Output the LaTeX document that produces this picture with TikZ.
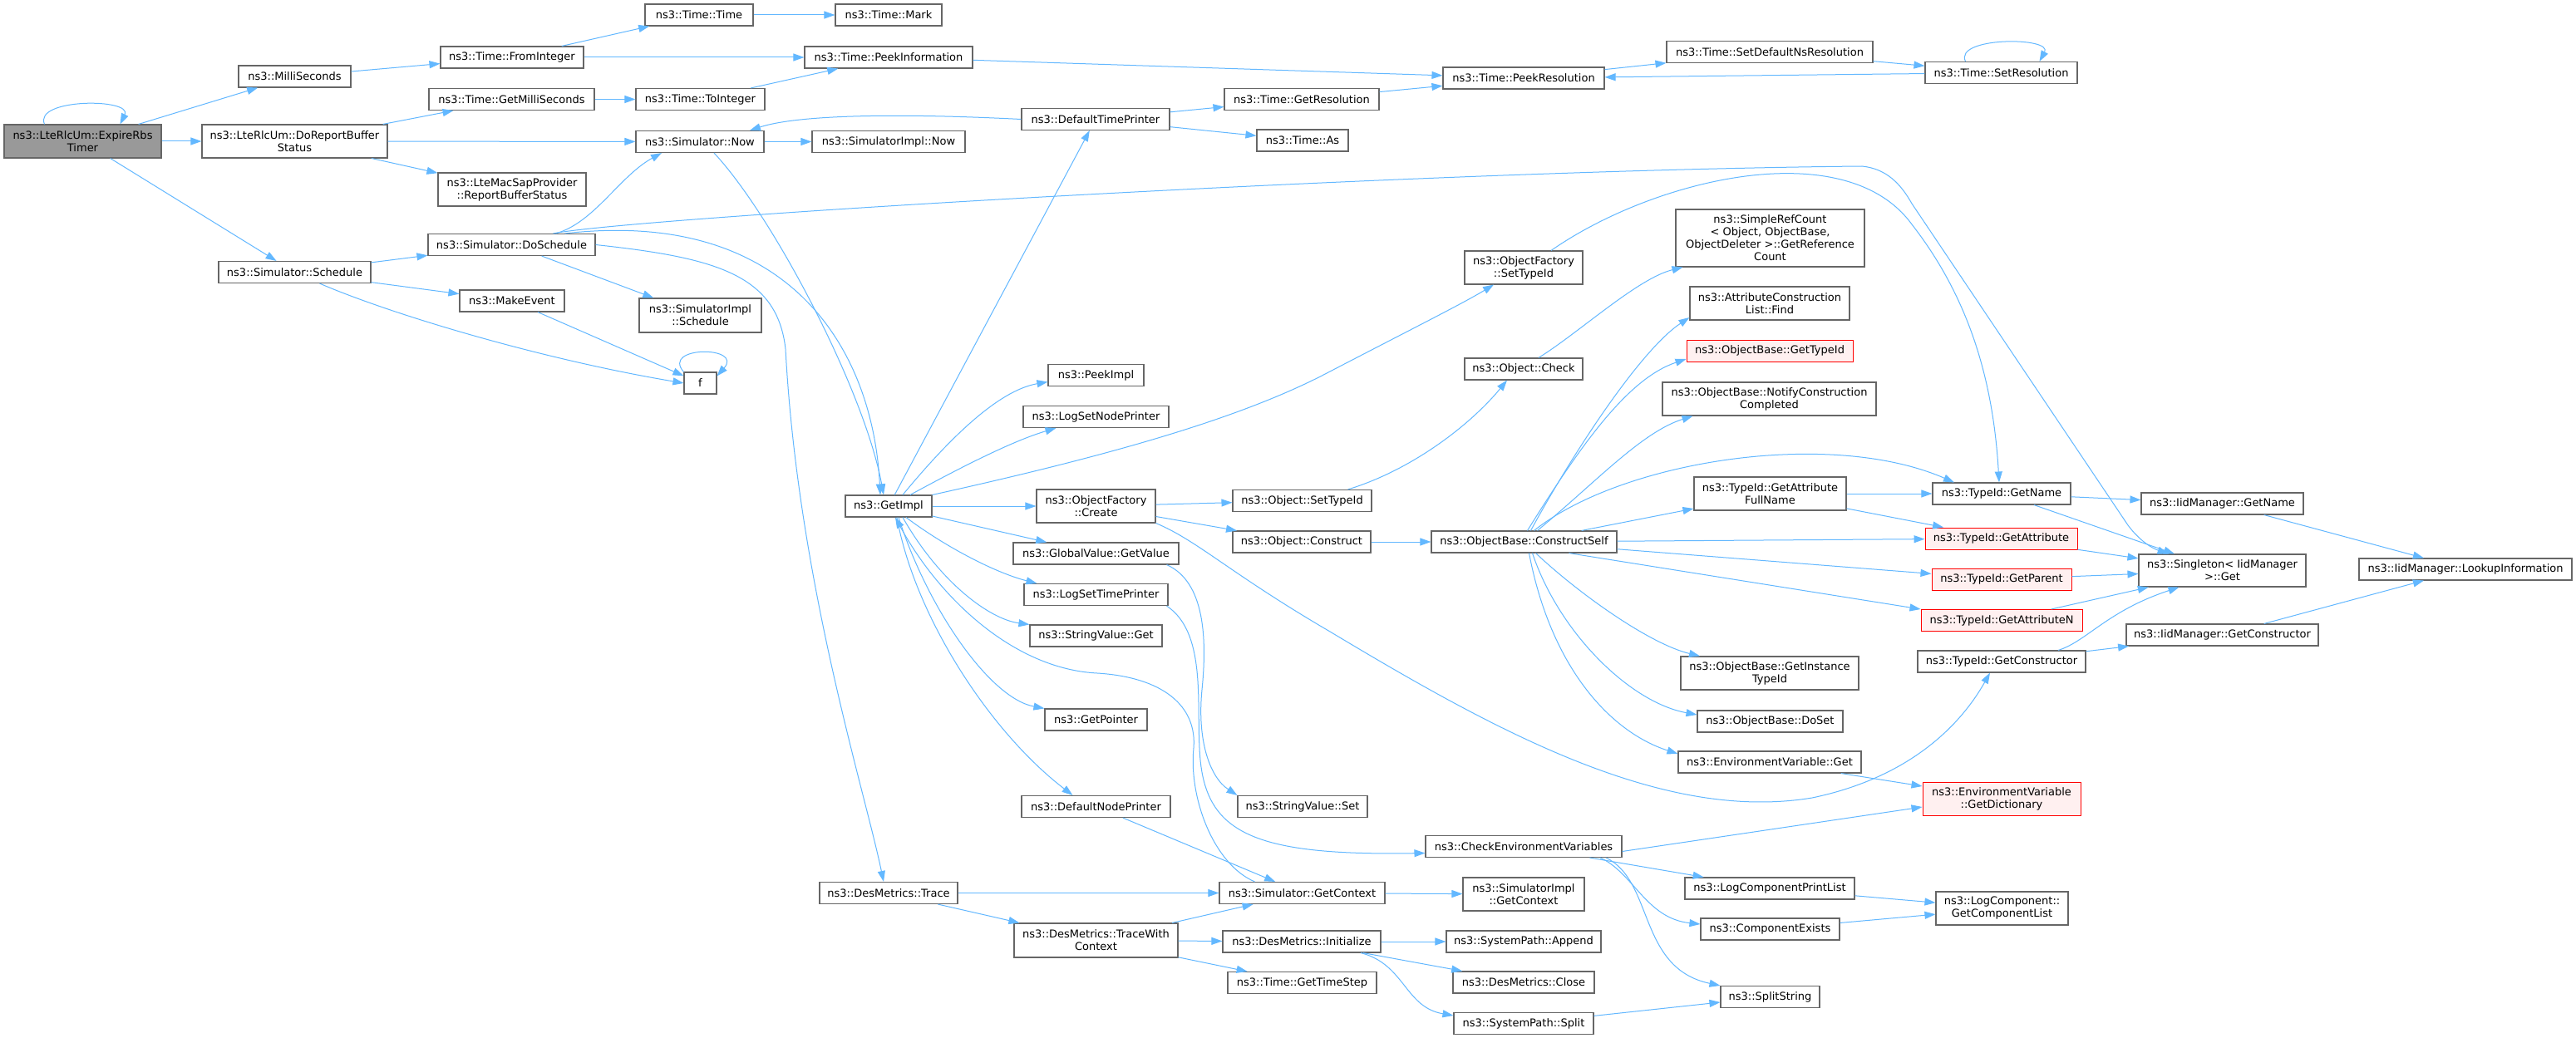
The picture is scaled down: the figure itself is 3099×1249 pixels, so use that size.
\documentclass[tikz,border=0pt]{standalone}
\usepackage{fontspec}
\setmainfont{DejaVu Sans}
\usetikzlibrary{arrows.meta}

\definecolor{edgeblue}{HTML}{63B8FF}
\definecolor{boxgrey}{HTML}{666666}
\definecolor{rootgrey}{HTML}{999999}
\definecolor{redfill}{HTML}{FFF0F0}

\tikzset{
    fn/.style={draw=boxgrey, line width=1.1pt, fill=white, minimum height=26, inner sep=0pt,
        align=center, font=\fontsize{13}{15}\selectfont},
    rootfn/.style={fn, fill=rootgrey},
    redfn/.style={fn, draw=red, line width=1pt, fill=redfill},
    call/.style={draw=edgeblue, line width=1pt, -{Triangle[length=13pt,width=9pt]}}
}

\begin{document}
\begin{tikzpicture}[x=1pt, y=-1pt]
            \path[fill=white, use as bounding box] (0,0) rectangle (3099,1249);

            % first columns
            \node[rootfn, minimum width=189, minimum height=40] (exp) at (99.5,170) {ns3::LteRlcUm::ExpireRbs\\Timer};
            \node[fn, minimum width=135] (ms) at (354.5,92) {ns3::MilliSeconds};
            \node[fn, minimum width=223, minimum height=40] (drbs) at (354.5,170) {ns3::LteRlcUm::DoReportBuffer\\Status};
            \node[fn, minimum width=183] (sched) at (354.5,327.5) {ns3::Simulator::Schedule};
            \node[fn, minimum width=172] (fromint) at (616,69) {ns3::Time::FromInteger};
            \node[fn, minimum width=199] (getms) at (615.5,119.5) {ns3::Time::GetMilliSeconds};
            \node[fn, minimum width=178, minimum height=40] (rbs) at (616,228) {ns3::LteMacSapProvider\\::ReportBufferStatus};
            \node[fn, minimum width=201] (dosched) at (615.5,294.5) {ns3::Simulator::DoSchedule};
            \node[fn, minimum width=126] (mkev) at (616,362) {ns3::MakeEvent};
            \node[fn, minimum width=130] (ttime) at (841,18) {ns3::Time::Time};
            \node[fn, minimum width=155] (toint) at (842.5,119.5) {ns3::Time::ToInteger};
            \node[fn, minimum width=154] (now) at (842,170.5) {ns3::Simulator::Now};
            \node[fn, minimum width=147, minimum height=41] (implsched) at (842.5,379.5) {ns3::SimulatorImpl\\::Schedule};
            \node[fn, minimum width=39] (f) at (842.5,461) {f};
            \node[fn, minimum width=128] (mark) at (1069,18) {ns3::Time::Mark};
            \node[fn, minimum width=202] (peekinfo) at (1069,69) {ns3::Time::PeekInformation};
            \node[fn, minimum width=184] (implnow) at (1069,170.5) {ns3::SimulatorImpl::Now};
            \node[fn, minimum width=104] (getimpl) at (1069,609) {ns3::GetImpl};
            \node[fn, minimum width=166] (dmtrace) at (1069,1074.5) {ns3::DesMetrics::Trace};

            % middle columns
            \node[fn, minimum width=178] (dtp) at (1318,143.5) {ns3::DefaultTimePrinter};
            \node[fn, minimum width=115] (peekimpl) at (1318.5,451.5) {ns3::PeekImpl};
            \node[fn, minimum width=175] (lsnp) at (1318.5,501.5) {ns3::LogSetNodePrinter};
            \node[fn, minimum width=143, minimum height=40] (create) at (1318.5,609) {ns3::ObjectFactory\\::Create};
            \node[fn, minimum width=199] (gvget) at (1318.5,666) {ns3::GlobalValue::GetValue};
            \node[fn, minimum width=173] (lstp) at (1318.5,715.5) {ns3::LogSetTimePrinter};
            \node[fn, minimum width=159] (svget) at (1318.5,765) {ns3::StringValue::Get};
            \node[fn, minimum width=123] (getptr) at (1318.5,866) {ns3::GetPointer};
            \node[fn, minimum width=179] (dnp) at (1318.5,970.5) {ns3::DefaultNodePrinter};
            \node[fn, minimum width=197, minimum height=41] (twc) at (1318.5,1131.5) {ns3::DesMetrics::TraceWith\\Context};
            \node[fn, minimum width=186] (getres) at (1566,119.5) {ns3::Time::GetResolution};
            \node[fn, minimum width=110] (as) at (1567,169) {ns3::Time::As};
            \node[fn, minimum width=167] (osettid) at (1566.5,602.5) {ns3::Object::SetTypeId};
            \node[fn, minimum width=166] (oconstruct) at (1566,652) {ns3::Object::Construct};
            \node[fn, minimum width=156] (svset) at (1567,970.5) {ns3::StringValue::Set};
            \node[fn, minimum width=199] (getctx) at (1566.5,1074.5) {ns3::Simulator::GetContext};
            \node[fn, minimum width=190] (dminit) at (1566,1133) {ns3::DesMetrics::Initialize};
            \node[fn, minimum width=179] (timestep) at (1566.5,1182.5) {ns3::Time::GetTimeStep};
            \node[fn, minimum width=194] (peekres) at (1833,94) {ns3::Time::PeekResolution};
            \node[fn, minimum width=142, minimum height=40] (ofsettid) at (1833,322) {ns3::ObjectFactory\\::SetTypeId};
            \node[fn, minimum width=142] (check) at (1833,444) {ns3::Object::Check};
            \node[fn, minimum width=223] (cself) at (1833.5,652) {ns3::ObjectBase::ConstructSelf};
            \node[fn, minimum width=236] (checkenv) at (1833,1018.5) {ns3::CheckEnvironmentVariables};
            \node[fn, minimum width=146, minimum height=40] (implctx) at (1833,1076) {ns3::SimulatorImpl\\::GetContext};
            \node[fn, minimum width=186] (append) at (1833,1133) {ns3::SystemPath::Append};
            \node[fn, minimum width=170] (close) at (1833,1182) {ns3::DesMetrics::Close};
            \node[fn, minimum width=168] (split) at (1833,1231.5) {ns3::SystemPath::Split};

            % right columns
            \node[fn, minimum width=248] (setdef) at (2129,62.5) {ns3::Time::SetDefaultNsResolution};
            \node[fn, minimum width=227, minimum height=69] (refcount) at (2129.5,286.5) {ns3::SimpleRefCount\\< Object, ObjectBase,\\ObjectDeleter >::GetReference\\Count};
            \node[fn, minimum width=192, minimum height=40] (acfind) at (2129,365) {ns3::AttributeConstruction\\List::Find};
            \node[redfn, minimum width=200] (obgettid) at (2129,422) {ns3::ObjectBase::GetTypeId};
            \node[fn, minimum width=257, minimum height=40] (notify) at (2128.5,480) {ns3::ObjectBase::NotifyConstruction\\Completed};
            \node[fn, minimum width=183, minimum height=40] (fullname) at (2129.5,594) {ns3::TypeId::GetAttribute\\FullName};
            \node[fn, minimum width=214, minimum height=40] (instid) at (2129,810) {ns3::ObjectBase::GetInstance\\TypeId};
            \node[fn, minimum width=175] (doset) at (2129.5,868) {ns3::ObjectBase::DoSet};
            \node[fn, minimum width=220] (envget) at (2129,917) {ns3::EnvironmentVariable::Get};
            \node[fn, minimum width=204] (lcpl) at (2129,1069) {ns3::LogComponentPrintList};
            \node[fn, minimum width=167] (compex) at (2129.5,1118) {ns3::ComponentExists};
            \node[fn, minimum width=119] (splitstr) at (2129.5,1199.5) {ns3::SplitString};
            \node[fn, minimum width=183] (setres) at (2407.5,87.5) {ns3::Time::SetResolution};
            \node[fn, minimum width=166] (getname) at (2408,594) {ns3::TypeId::GetName};
            \node[redfn, minimum width=183] (getattr) at (2407.5,648) {ns3::TypeId::GetAttribute};
            \node[redfn, minimum width=168] (getparent) at (2408,697) {ns3::TypeId::GetParent};
            \node[redfn, minimum width=194] (getattrn) at (2408,746.5) {ns3::TypeId::GetAttributeN};
            \node[fn, minimum width=202] (getctor) at (2408,796) {ns3::TypeId::GetConstructor};
            \node[redfn, minimum width=190, minimum height=40] (dict) at (2408,961) {ns3::EnvironmentVariable\\::GetDictionary};
            \node[fn, minimum width=159, minimum height=40] (complist) at (2408.5,1093) {ns3::LogComponent::\\GetComponentList};
            \node[fn, minimum width=195] (iidname) at (2673.5,606) {ns3::IidManager::GetName};
            \node[fn, minimum width=201, minimum height=39] (singleton) at (2673.5,686.5) {ns3::Singleton< IidManager\\>::Get};
            \node[fn, minimum width=231] (iidctor) at (2673.5,764) {ns3::IidManager::GetConstructor};
            \node[fn, minimum width=256] (lookup) at (2966,685) {ns3::IidManager::LookupInformation};

            % calls from the root
            \draw[call] ([xshift=-46]exp.north) .. controls (40,118) and (160,118) .. ([xshift=45]exp.north);
            \draw[call] (exp) -- (ms);
            \draw[call] (exp) -- (drbs);
            \draw[call] (exp) -- (sched);
            \draw[call] (ms) -- (fromint);
            \draw[call] (fromint) -- (ttime);
            \draw[call] (fromint) -- (peekinfo);
            \draw[call] (ttime) -- (mark);
            \draw[call] (getms) -- (toint);
            \draw[call] (toint) -- (peekinfo);
            \draw[call] (peekinfo) -- (peekres);
            \draw[call] (drbs) -- (getms);
            \draw[call] (drbs) -- (now);
            \draw[call] (drbs) -- (rbs);
            \draw[call] (now) -- (implnow);
            \draw[call] ([xshift=17]now.south) .. controls (930,260) and (1040,470) .. ([xshift=-6]getimpl.north);
            \draw[call] (dtp.west) .. controls (1080,136) and (960,138) .. ([xshift=60]now.north);

            % time resolution
            \draw[call] (dtp) -- (getres);
            \draw[call] (dtp) -- (as);
            \draw[call] (getres) -- (peekres);
            \draw[call] (peekres) -- (setdef);
            \draw[call] (setdef) -- (setres);
            \draw[call] (setres) -- (peekres);
            \draw[call] ([xshift=-43]setres.north) .. controls (2350,44) and (2470,44) .. ([xshift=46]setres.north);

            % scheduling
            \draw[call] (sched) -- (dosched);
            \draw[call] (sched) -- (mkev);
            \draw[call] ([xshift=30]sched.south) .. controls (470,378) and (650,432) .. (f.west);
            \draw[call] (mkev) -- (f);
            \draw[call] (f.north west) .. controls (795,416) and (895,416) .. ([yshift=-5]f.north east);
            \draw[call] ([xshift=53]dosched.north) .. controls (715,268) and (745,212) .. ([xshift=-46]now.south);
            \draw[call] ([xshift=64]dosched.north) .. controls (950,250) and (1050,420) .. ([xshift=-10]getimpl.north);
            \draw[call] (dosched) -- (implsched);
            \draw[call] (dosched.east) .. controls (860,310) and (935,330) .. (945,420)
                .. controls (960,700) and (1040,950) .. ([xshift=-6]dmtrace.north);
            \draw[call] ([xshift=50]dosched.north) .. controls (760,262) and (1700,205) .. (2240,200)
                .. controls (2270,203) and (2287,222) .. (2300,245) -- (2560,632)
                .. controls (2575,652) and (2590,660) .. ([xshift=-65]singleton.north);

            % GetImpl
            \draw[call] (getimpl) -- (dtp);
            \draw[call] ([xshift=17]getimpl.north) .. controls (1140,530) and (1200,470) .. ([yshift=-8]peekimpl.west);
            \draw[call] ([xshift=26]getimpl.north) .. controls (1160,560) and (1220,530) .. ([xshift=-48]lsnp.south);
            \draw[call] (getimpl.north east) .. controls (1350,545) and (1500,500) .. (1600,447)
                .. controls (1700,395) and (1760,365) .. ([xshift=-36]ofsettid.south);
            \draw[call] (getimpl) -- (create);
            \draw[call] (getimpl) -- (gvget);
            \draw[call] ([xshift=21]getimpl.south) .. controls (1140,660) and (1200,690) .. ([xshift=-71]lstp.north);
            \draw[call] ([xshift=17]getimpl.south) .. controls (1130,700) and (1190,745) .. (svget.north west);
            \draw[call] ([xshift=12]getimpl.south) .. controls (1115,730) and (1190,840) .. (getptr.north west);
            \draw[call] ([xshift=10]getimpl.south) .. controls (1100,740) and (1190,880) .. ([xshift=-28]dnp.north);
            \draw[call] ([xshift=-57]getctx.north) .. controls (1460,1040) and (1430,960) .. (1436,900)
                .. controls (1440,850) and (1400,815) .. (1320,810)
                .. controls (1220,805) and (1130,720) .. ([xshift=8]getimpl.south);
            \draw[call] ([xshift=85]gvget.south) .. controls (1450,700) and (1452,770) .. (1446,830)
                .. controls (1440,890) and (1455,935) .. (svset.north west);
            \draw[call] ([xshift=85]lstp.south) .. controls (1450,760) and (1440,840) .. (1443,900)
                .. controls (1447,1000) and (1500,1030) .. ([yshift=-8]checkenv.west);
            \draw[call] (dnp) -- (getctx);

            % metrics
            \draw[call] (dmtrace) -- (getctx);
            \draw[call] (dmtrace) -- (twc);
            \draw[call] (twc) -- (getctx);
            \draw[call] (twc) -- (dminit);
            \draw[call] (twc) -- (timestep);
            \draw[call] (dminit) -- (append);
            \draw[call] (dminit) -- (close);
            \draw[call] ([xshift=71]dminit.south) .. controls (1690,1160) and (1690,1212) .. ([yshift=-4]split.north west);
            \draw[call] (getctx) -- (implctx);
            \draw[call] (split) -- (splitstr);

            % environment
            \draw[call] ([yshift=-6]checkenv.east) -- ([yshift=-10]dict.west);
            \draw[call] (checkenv) -- (lcpl);
            \draw[call] ([xshift=92]checkenv.south) .. controls (1965,1050) and (1980,1105) .. ([yshift=6]compex.west);
            \draw[call] ([xshift=99]checkenv.south) .. controls (1990,1060) and (1970,1165) .. (splitstr.north west);
            \draw[call] (lcpl) -- (complist);
            \draw[call] (compex) -- (complist);
            \draw[call] (envget) -- (dict);

            % object construction
            \draw[call] (create) -- (osettid);
            \draw[call] (create) -- (oconstruct);
            \draw[call] (create.south east) .. controls (1440,650) and (1480,690) .. (1600,760)
                .. controls (1800,880) and (2000,990) .. (2180,960)
                .. controls (2300,935) and (2360,870) .. ([xshift=-14]getctor.south);
            \draw[call] (oconstruct) -- (cself);
            \draw[call] ([xshift=55]osettid.north) .. controls (1700,565) and (1770,510) .. ([xshift=-20]check.south);
            \draw[call] ([xshift=18]check.north) .. controls (1900,400) and (1970,335) .. ([xshift=-105]refcount.south);
            \draw[call] ([xshift=33]ofsettid.north) .. controls (1990,215) and (2220,160) .. (2300,270)
                .. controls (2370,360) and (2398,460) .. ([xshift=-3]getname.north);
            \draw[call] ([xshift=12]cself.north) .. controls (1950,555) and (2200,515) .. ([xshift=-57]getname.north);
            \draw[call] ([xshift=8]cself.north) .. controls (1895,540) and (1975,420) .. ([yshift=-17]acfind.west);
            \draw[call] ([xshift=4]cself.north) .. controls (1905,530) and (1960,455) .. ([yshift=-10]obgettid.west);
            \draw[call] ([xshift=16]cself.north) .. controls (1920,580) and (1975,520) .. ([xshift=-92]notify.south);
            \draw[call] (cself) -- (fullname);
            \draw[call] (cself) -- (getattr);
            \draw[call] (cself) -- (getparent);
            \draw[call] ([xshift=54]cself.south) -- (getattrn.north west);
            \draw[call] ([xshift=14]cself.south) .. controls (1900,715) and (1985,775) .. ([xshift=-84]instid.north);
            \draw[call] ([xshift=10]cself.south) .. controls (1875,760) and (1960,845) .. ([yshift=8]doset.west);
            \draw[call] ([xshift=6]cself.south) .. controls (1865,800) and (1935,880) .. ([yshift=10]envget.west);

            % type ids
            \draw[call] (fullname) -- (getname);
            \draw[call] (fullname) -- (getattr);
            \draw[call] (getname) -- (iidname);
            \draw[call] (getname) -- (singleton);
            \draw[call] (getattr) -- (singleton);
            \draw[call] (getparent) -- (singleton);
            \draw[call] (getattrn) -- (singleton);
            \draw[call] ([xshift=68]getctor.north) .. controls (2510,772) and (2535,735) .. ([xshift=-52]singleton.south);
            \draw[call] (getctor) -- (iidctor);
            \draw[call] (iidctor) -- (lookup);
            \draw[call] (iidname) -- (lookup);
\end{tikzpicture}
\end{document}
